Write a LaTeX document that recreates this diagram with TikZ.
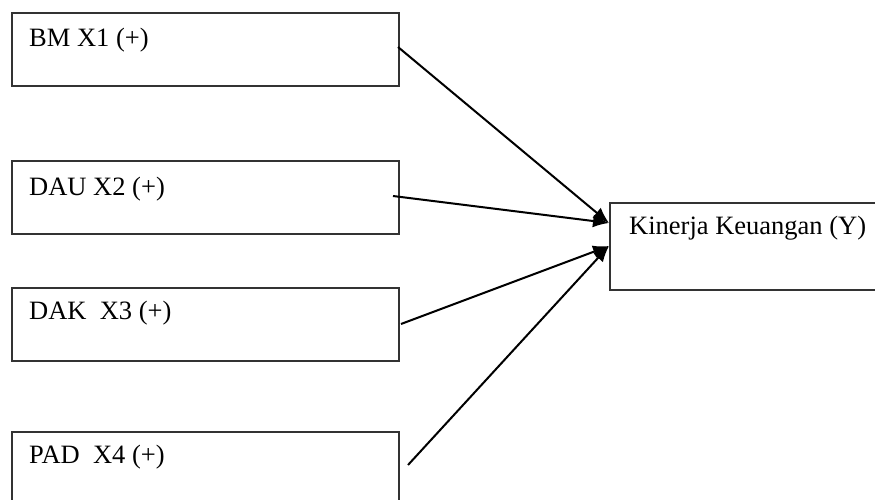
\documentclass[tikz,border=0pt]{standalone}
\usepackage{fontspec}
\setmainfont{Liberation Serif}
\usetikzlibrary{arrows.meta}
\begin{document}
\begin{tikzpicture}[x=1pt,y=-1pt,
  box/.style={draw=black!80,line width=2pt,rectangle,inner sep=0pt,anchor=north west},
  lbl/.style={anchor=base west,inner sep=0pt,font=\fontsize{26.5}{30}\selectfont},
  link/.style={line width=2pt,-{Latex[length=16pt,width=13pt]}}]
\useasboundingbox (0,0) rectangle (875,500);
% boxes
\node[box,minimum width=387pt,minimum height=73pt] (b1) at (11,12) {};
\node[box,minimum width=387pt,minimum height=73pt] (b2) at (11,160) {};
\node[box,minimum width=387pt,minimum height=73pt] (b3) at (11,287) {};
\node[box,minimum width=387pt,minimum height=90pt] (b4) at (11,431) {};
\node[box,minimum width=280pt,minimum height=87pt] (y) at (609,202) {};
% texts
\node[lbl] (t1) at (29,47) {BM X1 (+)};
\node[lbl] (t2) at (29,195) {DAU X2 (+)};
\node[lbl] (t3) at (29,319) {DAK~ X3 (+)};
\node[lbl] (t4) at (29,463) {PAD~ X4 (+)};
\node[lbl] (ty) at (629,234) {Kinerja Keuangan (Y)};
% connector ends
\coordinate (s1) at (398,47);
\coordinate (s2) at (393,196);
\coordinate (s3) at (401,324);
\coordinate (s4) at (408,465);
\coordinate (e1) at (609,223);
\coordinate (e2) at (609,246);
\draw[link] (s1) -- (e1);
\draw[link] (s2) -- (e1);
\draw[link] (s3) -- (e2);
\draw[link] (s4) -- (e2);
\end{tikzpicture}
\end{document}
